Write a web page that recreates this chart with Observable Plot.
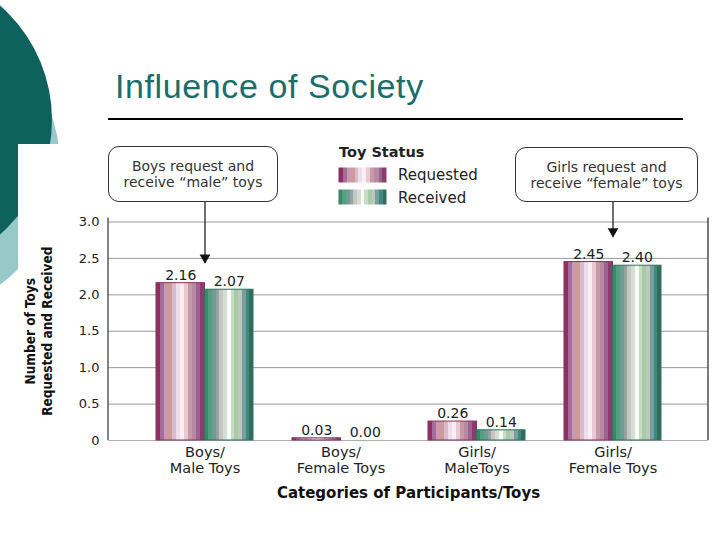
<!DOCTYPE html>
<html><head><meta charset="utf-8">
<script src="https://cdn.jsdelivr.net/npm/d3@7"></script>
<script src="https://cdn.jsdelivr.net/npm/@observablehq/plot@0.6"></script>
<style>
body{margin:0;background:#fff;}
#page{position:relative;width:720px;height:540px;overflow:hidden;font-family:"DejaVu Sans",sans-serif;}
#deco{position:absolute;left:0;top:0;}
#chart{position:absolute;left:0;top:0;}
#title{position:absolute;left:115px;top:69px;font-family:"Liberation Sans",Arial,sans-serif;font-size:34px;line-height:1;color:#1a6d6b;letter-spacing:0.6px;white-space:nowrap;}
#rule{position:absolute;left:108px;top:118px;width:575px;height:2px;background:#000;}
.box{position:absolute;border:1px solid #333;border-radius:11px;background:#fff;font-size:14px;color:#333;line-height:16px;box-sizing:border-box;display:flex;align-items:center;justify-content:center;text-align:center;white-space:pre;}
.lg{position:absolute;font-size:15px;color:#222;white-space:nowrap;line-height:1;}
.sw{position:absolute;}
</style></head>
<body>
<div id="page">
  <svg id="deco" width="720" height="540">
    <defs id="gdefs"></defs>
    <circle cx="-90" cy="165" r="150" fill="#97c9c9"></circle>
    <circle cx="-100" cy="120" r="152" fill="#0e625e"></circle>
    <rect x="18" y="144" width="702" height="396" fill="#fff"></rect>
  </svg>
  <div id="chart"></div>
  <div id="title">Influence of Society</div>
  <div id="rule"></div>
  <div id="box1" class="box"></div>
  <div id="box2" class="box"></div>
  <div id="legendTitle" class="lg" style="left:339px;top:145px;font-weight:bold;font-size:14.5px;"></div>
  <svg class="sw" style="left:338px;top:167px" width="50" height="17"><rect x="0.5" y="0.5" width="48" height="15" fill="url(#gradReq)"></rect></svg>
  <svg class="sw" style="left:338px;top:189px" width="50" height="17"><rect x="0.5" y="0.5" width="48" height="15" fill="url(#gradRec)"></rect></svg>
  <div id="lg1" class="lg" style="left:398px;top:168px;"></div>
  <div id="lg2" class="lg" style="left:398px;top:191px;"></div>
</div>
<script>
// ---- data ----
const categories = ["Boys/\nMale Toys", "Boys/\nFemale Toys", "Girls/\nMaleToys", "Girls/\nFemale Toys"];
const statuses = ["Requested", "Received"];
const requested = [2.16, 0.03, 0.26, 2.45];
const received = [2.07, 0.00, 0.14, 2.40];
const yTicks = [0, 0.5, 1.0, 1.5, 2.0, 2.5, 3.0];
const legendTitle = "Toy Status";
const xTitle = "Categories of Participants/Toys";
const yTitle = "Number of Toys\nRequested and Received";
const annotationText = ["Boys request and\nreceive “male” toys", "Girls request and\nreceive “female” toys"];
const annotationCategory = [categories[0], categories[3]];
const annotationTip = [2.43, 2.79];
const annotationFrom = 3.27;
const requestedStripes = ["#8c305f","#a46c9c","#c99aae","#cf9a9a","#d8bccc","#eeddea","#fbeef2","#e9c9d4","#c79aa4","#b58aa2","#9c6294","#8a3d6d"];
const receivedStripes = ["#3b8667","#52a07e","#6f9c97","#97a39e","#c4c7c4","#d6dcd6","#f7fdf3","#c6dcc6","#a6cca4","#c2c6c2","#74a0a0","#3f8a78","#2d6e5f"];

// ---- gradients ----
const NS = "http://www.w3.org/2000/svg";
function addGrad(id, stripes) {
  const g = document.createElementNS(NS, "linearGradient");
  g.setAttribute("id", id);
  g.setAttribute("x1", "0"); g.setAttribute("x2", "1"); g.setAttribute("y1", "0"); g.setAttribute("y2", "0");
  const n = stripes.length;
  stripes.forEach((c, i) => {
    [i / n, (i + 1) / n].forEach(o => {
      const s = document.createElementNS(NS, "stop");
      s.setAttribute("offset", o);
      s.setAttribute("stop-color", c);
      g.appendChild(s);
    });
  });
  document.getElementById("gdefs").appendChild(g);
}
addGrad("gradReq", requestedStripes);
addGrad("gradRec", receivedStripes);

document.getElementById("legendTitle").textContent = legendTitle;
document.getElementById("lg1").textContent = statuses[0];
document.getElementById("lg2").textContent = statuses[1];

const b1 = document.getElementById("box1");
b1.textContent = annotationText[0];
Object.assign(b1.style, {left: "108px", top: "146px", width: "170px", height: "56px"});
const b2 = document.getElementById("box2");
b2.textContent = annotationText[1];
Object.assign(b2.style, {left: "515px", top: "147px", width: "183px", height: "55px"});

const reqRows = categories.map((c, i) => ({category: c, status: statuses[0], value: requested[i]}));
const recRows = categories.map((c, i) => ({category: c, status: statuses[1], value: received[i]}));
const annots = annotationCategory.map((c, i) => ({category: c, tip: annotationTip[i]}));

const half = 48.5;

function frameLines(index, scales, values, dims) {
  const g = document.createElementNS(NS, "g");
  const y0 = scales.y(0), yTop = scales.y(3) - 4;
  const xl = dims.marginLeft, xr = dims.width - dims.marginRight;
  [[xl, "#333"], [xr, "#222"]].forEach(([x, c]) => {
    const l = document.createElementNS(NS, "line");
    l.setAttribute("x1", x); l.setAttribute("x2", x);
    l.setAttribute("y1", y0); l.setAttribute("y2", yTop);
    l.setAttribute("stroke", c); l.setAttribute("stroke-width", 1.2);
    g.appendChild(l);
  });
  return g;
}

const chart = Plot.plot({
  width: 720,
  height: 540,
  marginLeft: 108,
  marginRight: 12,
  marginTop: 221.5,
  marginBottom: 100,
  style: {fontFamily: "DejaVu Sans", background: "transparent", color: "#222"},
  x: {domain: categories, paddingInner: 0.29, paddingOuter: 0.34, label: null},
  y: {domain: [0, 3], label: null},
  marks: [
    Plot.gridY(yTicks.filter(d => d > 0), {stroke: "#9a9a9a", strokeOpacity: 1}),
    Plot.ruleY([0], {stroke: "#b0b0b0"}),
    frameLines,
    Plot.barY(reqRows, {x: "category", y: "value", insetRight: half, fill: "url(#gradReq)", stroke: "#8a2e5c", strokeWidth: 1}),
    Plot.barY(recRows, {x: "category", y: "value", insetLeft: half, fill: "url(#gradRec)", stroke: "#2f6f60", strokeWidth: 1}),
    Plot.text(reqRows, {x: "category", y: "value", text: d => d.value.toFixed(2), dx: -half / 2, dy: -8, fontSize: 14, fill: "#222"}),
    Plot.text(recRows, {x: "category", y: "value", text: d => d.value.toFixed(2), dx: half / 2, dy: -8, fontSize: 14, fill: "#222"}),
    Plot.ruleX(annots, {x: "category", y1: annotationFrom, y2: "tip", stroke: "#111", strokeWidth: 1.2}),
    Plot.dot(annots, {x: "category", y: "tip", symbol: "triangle", rotate: 180, r: 4, fill: "#111", stroke: "none", dy: -6}),
    Plot.axisY({ticks: yTicks, tickSize: 0, tickPadding: 9, tickFormat: d => d === 0 ? "0" : d.toFixed(1), fontSize: 13, label: null}),
    Plot.axisX({tickSize: 0, tickPadding: 5, fontSize: 14.5, label: null, lineHeight: 1.12}),
    Plot.text([xTitle], {frameAnchor: "bottom", dy: 57, fontWeight: "bold", fontSize: 15, fill: "#111"}),
    Plot.text([yTitle], {frameAnchor: "left", textAnchor: "middle", rotate: -90, dx: -70, fontWeight: "bold", fontFamily: "DejaVu Sans Condensed, DejaVu Sans", fontSize: 13.5, lineHeight: 1.25, fill: "#111"})
  ]
});
document.getElementById("chart").appendChild(chart);
</script>
</body></html>
